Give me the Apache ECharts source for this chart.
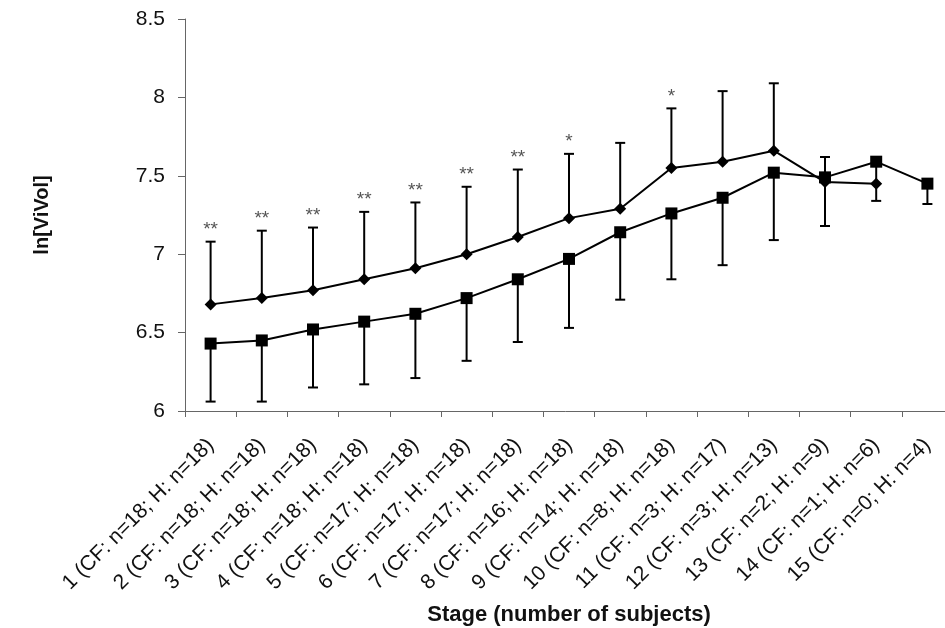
<!DOCTYPE html>
<html>
<head>
<meta charset="utf-8">
<script src="https://cdn.jsdelivr.net/npm/echarts@6/dist/echarts.min.js"></script>
<style>
html,body{margin:0;padding:0;background:#fff;overflow:hidden;}
#chart{width:945px;height:628px;}
</style>
</head>
<body>
<div id="chart"></div>
<script>
// Categories (stage and number of subjects)
const categories = [
  '1 (CF: n=18; H: n=18)', '2 (CF: n=18; H: n=18)', '3 (CF: n=18; H: n=18)',
  '4 (CF: n=18; H: n=18)', '5 (CF: n=17; H: n=18)', '6 (CF: n=17; H: n=18)',
  '7 (CF: n=17; H: n=18)', '8 (CF: n=16; H: n=18)', '9 (CF: n=14; H: n=18)',
  '10 (CF: n=8; H: n=18)', '11 (CF: n=3; H: n=17)', '12 (CF: n=3; H: n=13)',
  '13 (CF: n=2; H: n=9)', '14 (CF: n=1; H: n=6)', '15 (CF: n=0; H: n=4)'
];
// CF group (diamonds): mean and upper end of error bar
const cfMean  = [6.68, 6.72, 6.77, 6.84, 6.91, 7.00, 7.11, 7.23, 7.29, 7.55, 7.59, 7.66, 7.46, 7.45, null];
const cfUpper = [7.08, 7.15, 7.17, 7.27, 7.33, 7.43, 7.54, 7.64, 7.71, 7.93, 8.04, 8.09, 7.62, null, null];
// H group (squares): mean and lower end of error bar
const hMean   = [6.43, 6.45, 6.52, 6.57, 6.62, 6.72, 6.84, 6.97, 7.14, 7.26, 7.36, 7.52, 7.49, 7.59, 7.45];
const hLower  = [6.06, 6.06, 6.15, 6.17, 6.21, 6.32, 6.44, 6.53, 6.71, 6.84, 6.93, 7.09, 7.18, 7.34, 7.32];
// Significance markers above the CF error bars
const sigMarks = ['**', '**', '**', '**', '**', '**', '**', '*', '', '*', '', '', '', '', ''];
// Y axis ticks
const yMin = 6, yMax = 8.5, yStep = 0.5;

const FONT = "'Liberation Sans', Arial, sans-serif";

function errData(mean, end) {
  const out = [];
  mean.forEach((m, i) => {
    if (m != null && end[i] != null) out.push([i, m, end[i]]);
  });
  return out;
}

function errRender(withSig) {
  return function (params, api) {
    const i = api.value(0);
    const p0 = api.coord([i, api.value(1)]);
    const p1 = api.coord([i, api.value(2)]);
    const cap = 5;
    const style = { stroke: '#000', lineWidth: 2 };
    const children = [
      { type: 'line', shape: { x1: p0[0], y1: p0[1], x2: p1[0], y2: p1[1] }, style },
      { type: 'line', shape: { x1: p1[0] - cap, y1: p1[1], x2: p1[0] + cap, y2: p1[1] }, style }
    ];
    if (withSig && sigMarks[i]) {
      children.push({
        type: 'text',
        style: {
          text: sigMarks[i], x: p1[0], y: p1[1] - 12,
          align: 'center', verticalAlign: 'middle',
          fill: '#555', font: '19px ' + FONT
        }
      });
    }
    return { type: 'group', children };
  };
}

const chart = echarts.init(document.getElementById('chart'), null, { renderer: 'canvas' });
chart.setOption({
  backgroundColor: '#fff',
  animation: false,
  grid: { left: 185, right: -8, top: 19, bottom: 217, containLabel: false, outerBoundsMode: 'none' },
  xAxis: {
    type: 'category',
    data: categories,
    boundaryGap: true,
    name: 'Stage (number of subjects)',
    nameLocation: 'middle',
    nameGap: 193,
    nameTextStyle: { fontFamily: FONT, fontSize: 22, fontWeight: 'bold', color: '#111' },
    axisLine: { lineStyle: { color: '#666', width: 1 } },
    axisTick: { show: true, alignWithLabel: false, length: 6, lineStyle: { color: '#666' } },
    axisLabel: {
      interval: 0, rotate: 45, margin: 31,
      fontFamily: FONT, fontSize: 21, color: '#111'
    },
    splitLine: { show: false }
  },
  yAxis: {
    type: 'value',
    min: yMin, max: yMax, interval: yStep,
    name: 'ln[ViVol]',
    nameLocation: 'middle',
    nameRotate: 90,
    nameGap: 133,
    nameTextStyle: { fontFamily: FONT, fontSize: 20, fontWeight: 'bold', color: '#111' },
    axisLine: { show: true, lineStyle: { color: '#666', width: 1 } },
    axisTick: { show: true, length: 7, lineStyle: { color: '#666' } },
    axisLabel: {
      margin: 20, fontFamily: FONT, fontSize: 21, color: '#111',
      formatter: v => String(v)
    },
    splitLine: { show: false }
  },
  series: [
    {
      name: 'CF error', type: 'custom', z: 1,
      renderItem: errRender(true),
      data: errData(cfMean, cfUpper),
      encode: { x: 0, y: [1, 2] }
    },
    {
      name: 'H error', type: 'custom', z: 1,
      renderItem: errRender(false),
      data: errData(hMean, hLower),
      encode: { x: 0, y: [1, 2] }
    },
    {
      name: 'CF', type: 'line', z: 3,
      data: cfMean,
      symbol: 'diamond', symbolSize: 12,
      lineStyle: { color: '#000', width: 2 },
      itemStyle: { color: '#000' },
      connectNulls: false
    },
    {
      name: 'H', type: 'line', z: 3,
      data: hMean,
      symbol: 'rect', symbolSize: 12,
      lineStyle: { color: '#000', width: 2 },
      itemStyle: { color: '#000' }
    }
  ]
});
</script>
</body>
</html>
